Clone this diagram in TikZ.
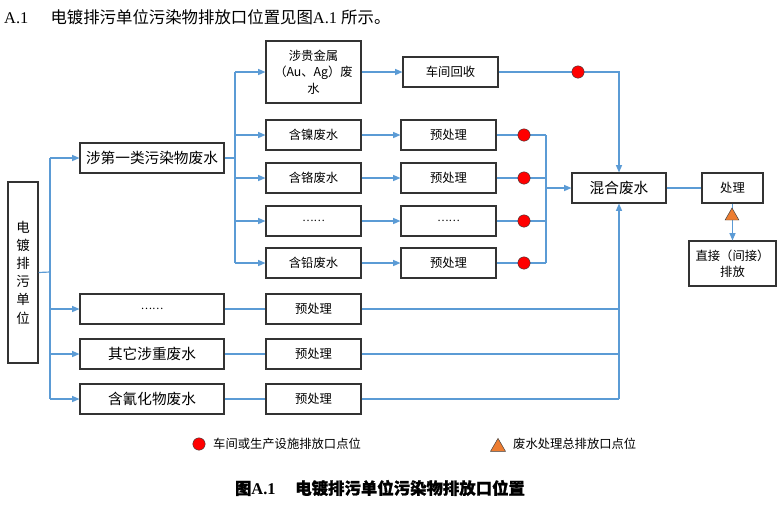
\documentclass[tikz,border=0pt]{standalone}
\usepackage{fontspec}
\setmainfont{Liberation Serif}
\newfontfamily\cjk{Noto Sans CJK SC}
\newfontfamily\cjkbold[FakeBold=1]{Noto Sans CJK SC}
\usetikzlibrary{arrows.meta,shapes.geometric}
\definecolor{pipe}{RGB}{91,155,213}
\definecolor{spotorange}{RGB}{237,125,49}

\begin{document}
\begin{tikzpicture}[
  x=0.03cm, y=-0.03cm,
  >={Triangle[length=2.2mm,width=1.8mm]},
  font=\cjk\fontsize{10.5}{14}\selectfont,
  box/.style={draw=black!80,line width=.9pt,minimum height=.9cm,inner sep=1pt,align=center},
  big/.style={font=\cjk\fontsize{12.5}{15}\selectfont},
  wide/.style={box,big,minimum width=4.32cm},
  mid/.style={box,minimum width=2.85cm},
  flow/.style={draw=pipe,line width=1pt},
  spot/.style={circle,draw=black!75,fill=red,minimum size=.37cm,inner sep=0pt},
  outlet/.style={regular polygon,regular polygon sides=3,draw=black!75,fill=spotorange,minimum size=.48cm,inner sep=0pt}
]
  \useasboundingbox (0,0) rectangle (781,519);

  % Heading and caption.
  \node[anchor=west,inner sep=0pt,font=\rmfamily\fontsize{14}{16}\selectfont] (head) at (4,17)
    {A.1\hspace{1.35em}{\cjk 电镀排污单位污染物排放口位置见图}A.1 {\cjk 所示。}};
  \node[inner sep=0pt,font=\rmfamily\bfseries\fontsize{14}{16}\selectfont] (caption) at (380,488)
    {{\cjkbold 图}A.1\hspace{1.2em}{\cjkbold 电镀排污单位污染物排放口位置}};

  % Sources.
  \node[box,minimum width=.9cm,minimum height=5.43cm,font=\cjk\fontsize{11.5}{15.5}\selectfont] (unit) at (23,272.5)
    {电\\镀\\排\\污\\单\\位};
  \node[wide] (cat1) at (152,158) {涉第一类污染物废水};
  \node[wide,font=\cjk\fontsize{9}{11}\selectfont] (more) at (152,309) {……};
  \node[wide] (heavy) at (152,354) {其它涉重废水};
  \node[wide] (cyan) at (152,399) {含氰化物废水};

  % Second column.
  \node[mid,minimum height=1.86cm] (noble) at (313.5,72) {涉贵金属\\（Au、Ag）废\\水};
  \node[mid] (ni) at (313.5,135) {含镍废水};
  \node[mid] (cr) at (313.5,178) {含铬废水};
  \node[mid,font=\cjk\fontsize{9}{11}\selectfont] (etc) at (313.5,221) {……};
  \node[mid] (pb) at (313.5,263) {含铅废水};
  \node[mid] (pre5) at (313.5,309) {预处理};
  \node[mid] (pre6) at (313.5,354) {预处理};
  \node[mid] (pre7) at (313.5,399) {预处理};

  % Third column.
  \node[mid] (recyc) at (450.5,72) {车间回收};
  \node[mid] (pre1) at (448.5,135) {预处理};
  \node[mid] (pre2) at (448.5,178) {预处理};
  \node[mid,font=\cjk\fontsize{9}{11}\selectfont] (pre3) at (448.5,221) {……};
  \node[mid] (pre4) at (448.5,263) {预处理};

  % Mixing and treatment.
  \node[box,big,minimum width=2.82cm] (mix) at (619,188) {混合废水};
  \node[box,minimum width=1.83cm] (treat) at (732.5,188) {处理};
  \node[box,minimum width=2.61cm,minimum height=1.35cm] (dis) at (732.5,263.5) {直接（间接）\\排放};

  \coordinate (trunk) at (50,272);
  \coordinate (branch) at (235,158);
  \coordinate (merge) at (546,188);
  \coordinate (dotcol) at (524,0);

  % Connectors.
  \draw[flow] (unit.east) -- (trunk);
  \draw[flow] (trunk |- cat1) -- (trunk |- cyan);
  \foreach \n in {cat1,more,heavy,cyan}
    \draw[flow,->] (trunk |- \n) -- (\n.west);
  \draw[flow] (cat1.east) -- (branch);
  \draw[flow] (branch |- noble) -- (branch |- pb);
  \foreach \n in {noble,ni,cr,etc,pb}
    \draw[flow,->] (branch |- \n) -- (\n.west);
  \foreach \a/\b in {noble/recyc,ni/pre1,cr/pre2,etc/pre3,pb/pre4}
    \draw[flow,->] (\a.east) -- (\b.west);
  \foreach \n in {pre1,pre2,pre3,pre4}
    \draw[flow] (\n.east) -- (merge |- \n);
  \draw[flow] (merge |- pre1) -- (merge |- pre4);
  \draw[flow,->] (merge) -- (mix.west);
  \draw[flow,->] (recyc.east) -- (mix.north |- recyc) -- (mix.north);
  \foreach \a/\b in {more/pre5,heavy/pre6,cyan/pre7} {
    \draw[flow] (\a.east) -- (\b.west);
    \draw[flow] (\b.east) -- (mix.south |- \b);
  }
  \draw[flow] (mix.south |- pre5) -- (mix.south |- pre7);
  \draw[flow,->] (mix.south |- pre5) -- (mix.south);
  \draw[flow] (mix.east) -- (treat.west);
  \draw[flow,->] (treat.south) -- (dis.north);

  % Discharge points.
  \node[spot] (spot0) at (578,72) {};
  \foreach \n in {pre1,pre2,pre3,pre4}
    \node[spot] (spot-\n) at (dotcol |- \n) {};
  \node[outlet] (total) at (732,216) {};

  % Legend.
  \node[spot] (keyspot) at (199,444) {};
  \node[anchor=west,inner sep=0pt] (keyspottext) at (213,444) {车间或生产设施排放口点位};
  \node[outlet,minimum size=.52cm] (keytri) at (498,447) {};
  \node[anchor=west,inner sep=0pt] (keytritext) at (513,444) {废水处理总排放口点位};
\end{tikzpicture}
\end{document}
